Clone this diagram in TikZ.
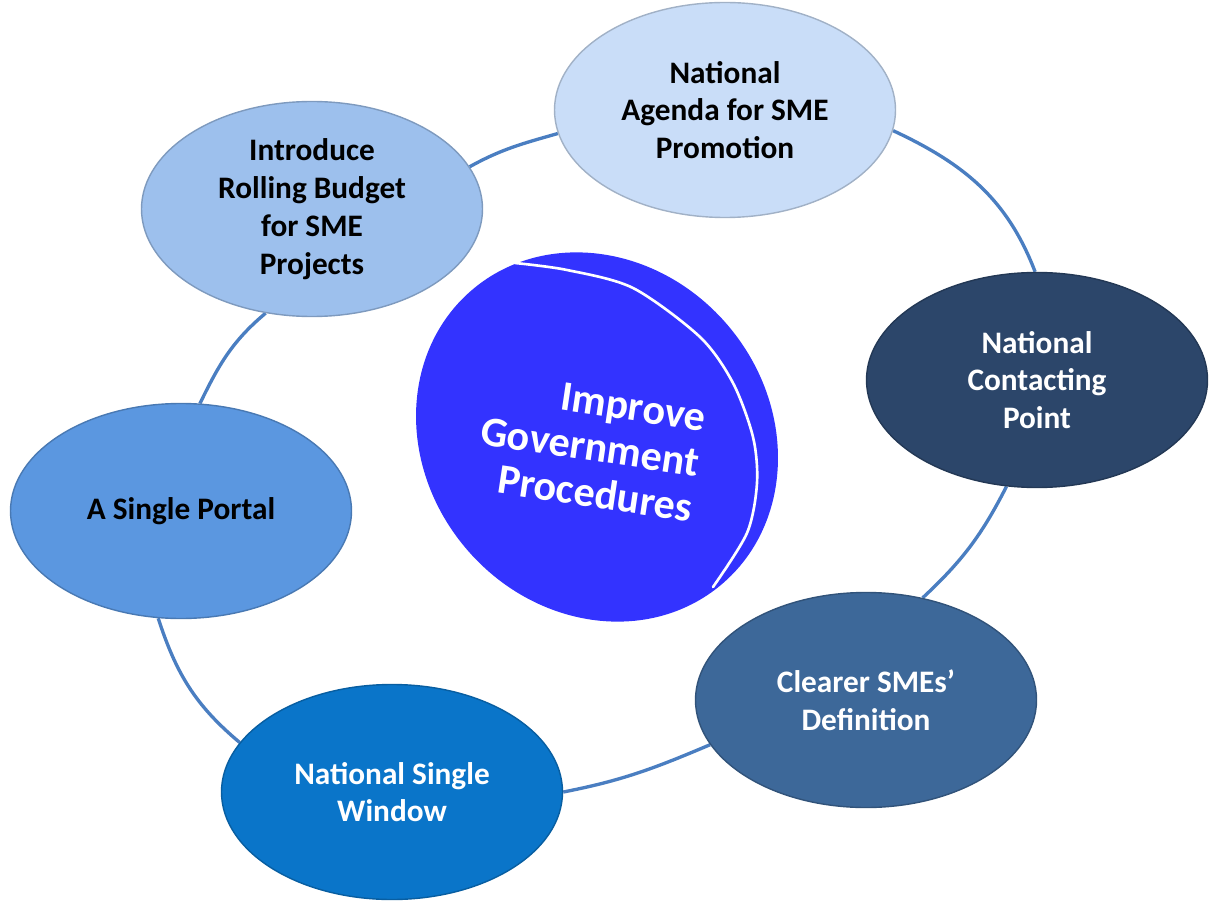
\documentclass[tikz,border=0pt]{standalone}
\usepackage{fontspec}
\setmainfont{Carlito}
\usepackage{tikz}
\usetikzlibrary{shapes.geometric,backgrounds}
\definecolor{agendablue}{HTML}{C9DDF8}
\definecolor{contactblue}{HTML}{2C466A}
\definecolor{clearerblue}{HTML}{3D6899}
\definecolor{windowblue}{HTML}{0A75C9}
\definecolor{portalblue}{HTML}{5B97E0}
\definecolor{budgetblue}{HTML}{9DC0ED}
\definecolor{coreblue}{HTML}{3333FF}
\definecolor{ringblue}{HTML}{4A7EC1}

\begin{document}
\begin{tikzpicture}[
	goal/.style={ellipse, minimum width=6.82cm, minimum height=4.3cm, inner sep=0pt,
		align=center, font=\fontsize{17.8}{21.5}\selectfont\bfseries,
		fill=#1, draw=#1!80!black, line width=0.8pt},
	ring/.style={draw=ringblue, line width=1.9pt}
]
	\useasboundingbox (0,0) rectangle (24.2,18.06);
	%
	\fill[coreblue, rotate around={-50:(11.94,9.32)}] (11.94,9.32) ellipse [x radius=3.86, y radius=3.44];
	\draw[white, line width=1.5pt, line cap=round] plot[smooth] coordinates {(10.30,12.80) (11.34,12.66) (12.66,12.30) (14.00,11.32) (14.66,10.40) (15.06,9.32) (15.14,8.40) (14.94,7.40) (14.26,6.32)};
	\node[rotate=-8.5, align=right, text=white, font=\fontsize{24}{26}\selectfont\bfseries] (0) at (11.80,9.12) {Improve\\Government\\Procedures};
	%
	\node[goal=agendablue] (1) at (14.50,15.86) {National\\Agenda for SME\\Promotion};
	\node[goal=contactblue, text=white] (2) at (20.74,10.46) {National\\Contacting\\Point};
	\node[goal=clearerblue, text=white] (3) at (17.32,4.06) {Clearer SMEs’\\Definition};
	\node[goal=windowblue, text=white] (4) at (7.84,2.22) {National Single\\Window};
	\node[goal=portalblue] (5) at (3.62,7.84) {A Single Portal};
	\node[goal=budgetblue] (6) at (6.24,13.88) {Introduce\\Rolling Budget\\for SME\\Projects};
	%
	\begin{scope}[on background layer]
		\draw[ring] (6.15) to[out=29, in=196] (1.188);
		\draw[ring] (1.353) to[out=-25, in=111] (2.91);
		\draw[ring] (2.254) to[out=-117, in=43] (3.61);
		\draw[ring] (3.196) to[out=203, in=11] (4.0);
		\draw[ring] (4.162) to[out=140, in=-72] (5.258);
		\draw[ring] (5.80) to[out=64, in=220] (6.246);
	\end{scope}
\end{tikzpicture}
\end{document}
